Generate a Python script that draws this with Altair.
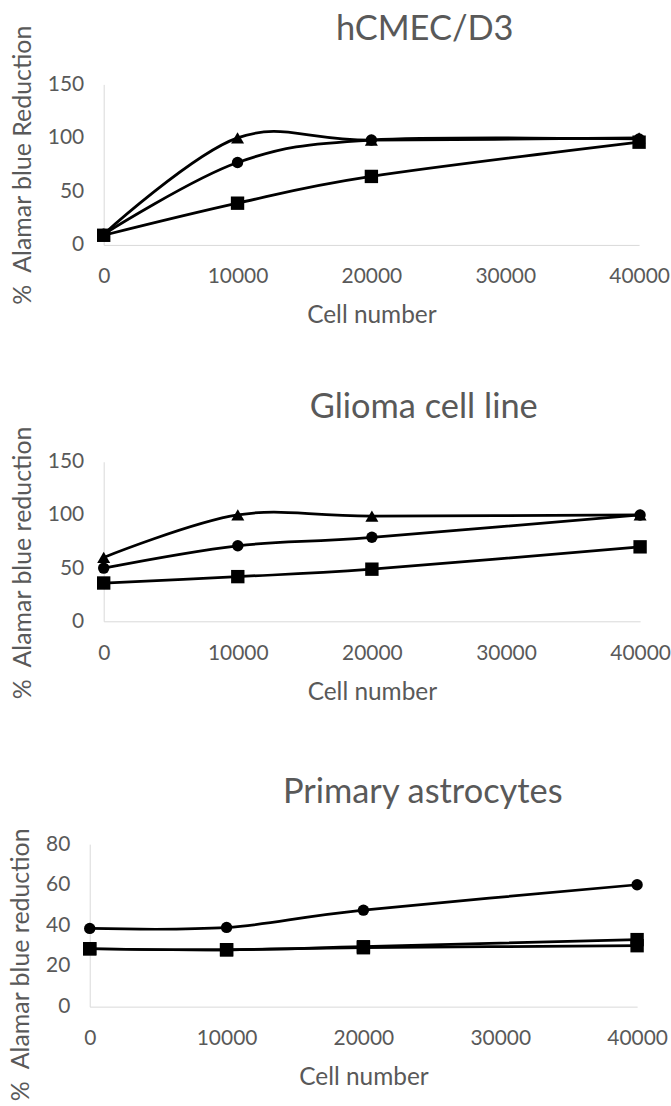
import altair as alt
import pandas as pd

# Cell numbers seeded per well
cells = [0, 10000, 20000, 40000]
tick_cells = [0, 10000, 20000, 30000, 40000]

# hCMEC/D3 (% Alamar blue reduction)
hcmec_triangle = [10, 100, 98, 100]
hcmec_circle = [10, 77, 98, 99]
hcmec_square = [9, 39, 64, 96]

# Glioma cell line
glioma_triangle = [60, 100, 99, 100]
glioma_circle = [50, 71, 79, 100]
glioma_square = [36, 42, 49, 70]

# Primary astrocytes
astro_circle = [38.5, 39, 47.5, 60]
astro_square_a = [28.5, 28, 29.5, 33]
astro_square_b = [28.5, 28, 29, 30]

TEXT = "#595959"
AXIS = "#d9d9d9"
FONT = "Lato"

SHAPES = {"triangle": ("triangle-up", 170), "circle": ("circle", 130), "square": ("square", 180)}


def frame(series):
    rows = []
    for order, (name, marker, values) in enumerate(series):
        for c, v in zip(cells, values):
            rows.append({"series": name, "marker": marker, "order": order, "cells": c, "value": v})
    return pd.DataFrame(rows)


def panel(title, title_dx, title_offset, series, ymax, yticks, ytitle, width, height,
          title_shift, shift_left=0):
    """One line panel; shift_left pulls the plot area left of the panel origin."""
    df = frame(series)
    xscale = alt.Scale(domain=[0, 40000], nice=False)
    if shift_left:
        xscale = alt.Scale(domain=[0, 40000], nice=False, range=[-shift_left, width])
    x = alt.X(
        "cells:Q",
        scale=xscale,
        axis=alt.Axis(
            values=tick_cells, format="d", title="Cell number", grid=False,
            ticks=False, tickSize=0, domainColor=AXIS, domainWidth=1,
            labelPadding=21, titlePadding=17, labelFlush=False, labelOverlap=False,
            labelFont=FONT, labelFontSize=21, labelColor=TEXT,
            titleFont=FONT, titleFontSize=24.5, titleFontWeight="normal", titleColor=TEXT,
        ),
    )
    y = alt.Y(
        "value:Q",
        scale=alt.Scale(domain=[0, ymax], nice=False),
        axis=alt.Axis(
            values=yticks, title=ytitle, grid=False, offset=shift_left,
            ticks=False, tickSize=0, domainColor=AXIS, domainWidth=1,
            labelPadding=20, titlePadding=12, labelFlush=False,
            labelFont=FONT, labelFontSize=21, labelColor=TEXT,
            titleFont=FONT, titleFontSize=25, titleFontWeight="normal", titleColor=TEXT,
            titleY=height / 2 + title_shift,
        ),
    )
    layers = []
    for name, marker, _ in series:
        shape, size = SHAPES[marker]
        base = alt.Chart(df).transform_filter(alt.datum.series == name)
        layers.append(
            base.mark_line(interpolate="cardinal", color="black", strokeWidth=2.75).encode(x=x, y=y)
        )
        layers.append(
            base.mark_point(shape=shape, size=size, filled=True, color="black", opacity=1).encode(x=x, y=y)
        )
    return alt.layer(*layers).properties(
        width=width,
        height=height,
        title=alt.TitleParams(
            text=title, font=FONT, fontSize=34.5, fontWeight="normal", color=TEXT,
            anchor="middle", frame="group", dx=title_dx, offset=title_offset,
        ),
    )


p1 = panel(
    "hCMEC/D3", 53.5, -23.5,
    [("t", "triangle", hcmec_triangle), ("c", "circle", hcmec_circle), ("s", "square", hcmec_square)],
    150, [0, 50, 100, 150], "%\u00a0 Alamar blue Reduction", 537, 161, 0,
)
p2 = panel(
    "Glioma cell line", 52, 0,
    [("t", "triangle", glioma_triangle), ("c", "circle", glioma_circle), ("s", "square", glioma_square)],
    150, [0, 50, 100, 150], "%\u00a0 Alamar blue reduction", 538, 160, 21,
)
p3 = panel(
    "Primary astrocytes", 52.5, 16.5,
    [("c", "circle", astro_circle), ("sb", "square", astro_square_b), ("sa", "square", astro_square_a)],
    80, [0, 20, 40, 60, 80], "%\u00a0 Alamar blue reduction", 535, 163, 39, shift_left=14,
)

top_pair = alt.concat(p1, p2, columns=1, align="none", spacing=61.5)
chart = (
    alt.concat(top_pair, p3, columns=1, align="none", spacing=71)
    .properties(padding={"left": 8, "top": 10, "right": 0, "bottom": 0}, background="white")
    .configure_view(stroke=None)
)

chart.save("out.html", embed_options={"renderer": "svg", "actions": False})
